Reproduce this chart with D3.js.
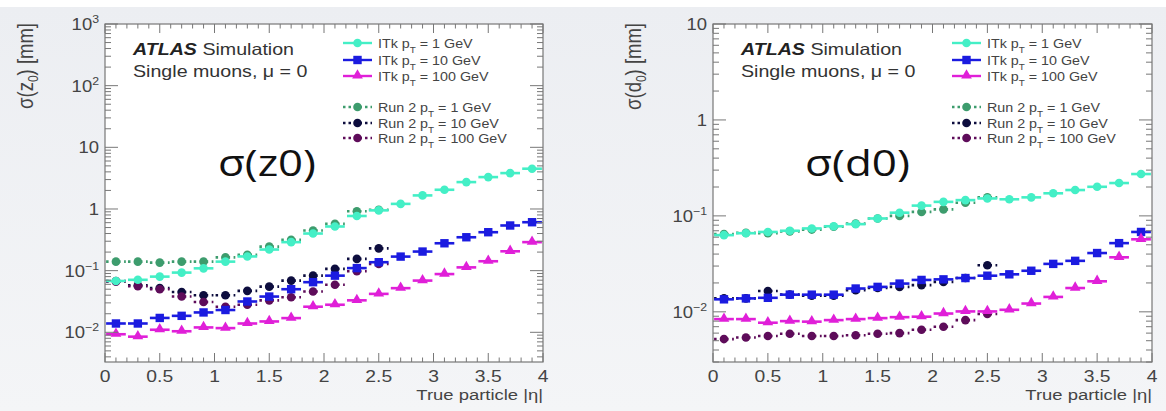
<!DOCTYPE html>
<html>
<head>
<meta charset="utf-8">
<script src="https://cdn.jsdelivr.net/npm/d3@7"></script>
<style>
  body { margin: 0; background: #ffffff; }
  svg { display: block; font-family: "Liberation Sans", Arial, sans-serif; }
  text { white-space: pre; }
</style>
</head>
<body>
<svg id="chart" width="1166" height="411"></svg>
<script>
// bin centres in |eta|
const etaItk = [0.1, 0.3, 0.5, 0.7, 0.9, 1.1, 1.3, 1.5, 1.7, 1.9, 2.1, 2.3, 2.5, 2.7, 2.9, 3.1, 3.3, 3.5, 3.7, 3.9];
const etaRun2 = [0.1, 0.3, 0.5, 0.7, 0.9, 1.1, 1.3, 1.5, 1.7, 1.9, 2.1, 2.3, 2.5];

// sigma(z0) [mm]
const itk1_z0 = [0.068, 0.071, 0.080, 0.093, 0.109, 0.140, 0.170, 0.220, 0.290, 0.400, 0.520, 0.77, 0.95, 1.21, 1.66, 2.05, 2.73, 3.29, 3.82, 4.5];
const itk10_z0 = [0.0139, 0.0139, 0.0171, 0.0185, 0.021, 0.023, 0.0316, 0.038, 0.050, 0.065, 0.083, 0.110, 0.137, 0.169, 0.204, 0.278, 0.348, 0.42, 0.54, 0.61];
const itk100_z0 = [0.0093, 0.0085, 0.011, 0.0104, 0.012, 0.0117, 0.0139, 0.015, 0.017, 0.026, 0.028, 0.033, 0.042, 0.052, 0.069, 0.088, 0.113, 0.142, 0.206, 0.29];
const run2_1_z0 = [0.14, 0.14, 0.135, 0.14, 0.14, 0.164, 0.18, 0.245, 0.316, 0.447, 0.574, 0.92, 0.97];
const run2_10_z0 = [0.068, 0.058, 0.052, 0.045, 0.040, 0.040, 0.047, 0.055, 0.069, 0.083, 0.107, 0.155, 0.23];
const run2_100_z0 = [0.066, 0.056, 0.050, 0.038, 0.031, 0.026, 0.028, 0.033, 0.037, 0.046, 0.059, 0.098, 0.128];

// sigma(d0) [mm]
const itk1_d0 = [0.063, 0.066, 0.068, 0.070, 0.074, 0.078, 0.082, 0.094, 0.108, 0.128, 0.140, 0.146, 0.152, 0.149, 0.156, 0.172, 0.186, 0.201, 0.220, 0.273];
const itk10_d0 = [0.0135, 0.0138, 0.0140, 0.0151, 0.0151, 0.0151, 0.0175, 0.0182, 0.0197, 0.0215, 0.0218, 0.0225, 0.0238, 0.0246, 0.0268, 0.0316, 0.0340, 0.041, 0.052, 0.068];
const itk100_d0 = [0.0084, 0.0084, 0.0077, 0.0080, 0.0079, 0.0082, 0.0084, 0.0086, 0.0088, 0.0089, 0.0096, 0.0101, 0.0101, 0.0105, 0.0122, 0.0143, 0.0177, 0.0208, 0.037, 0.057];
const run2_1_d0 = [0.0646, 0.0665, 0.066, 0.069, 0.072, 0.077, 0.083, 0.094, 0.100, 0.110, 0.117, 0.137, 0.156];
const run2_10_d0 = [0.0138, 0.0138, 0.0165, 0.0151, 0.0147, 0.0147, 0.0168, 0.0177, 0.0182, 0.019, 0.0205, 0.0225, 0.0306];
const run2_100_d0 = [0.0052, 0.0054, 0.0056, 0.0059, 0.0056, 0.0056, 0.0057, 0.0059, 0.0060, 0.0065, 0.0070, 0.0082, 0.0095];

// axis ticks
const xTicks = [0, 0.5, 1, 1.5, 2, 2.5, 3, 3.5, 4];
const xTickLabels = ["0", "0.5", "1", "1.5", "2", "2.5", "3", "3.5", "4"];
const yDecadesZ0 = [1000, 100, 10, 1, 0.1, 0.01];
const yLabelsZ0 = [["10", "3"], ["10", "2"], ["10", ""], ["1", ""], ["10", "\u22121"], ["10", "\u22122"]];
const yDecadesD0 = [10, 1, 0.1, 0.01];
const yLabelsD0 = [["10", ""], ["1", ""], ["10", "\u22121"], ["10", "\u22122"]];

// legend entries
const legendNames = [
    ["ITk p", " = 1 GeV"], ["ITk p", " = 10 GeV"], ["ITk p", " = 100 GeV"],
    ["Run 2 p", " = 1 GeV"], ["Run 2 p", " = 10 GeV"], ["Run 2 p", " = 100 GeV"]
];
const seriesColors = ["#44efc6", "#1b1be0", "#e01fd8", "#3d9c6d", "#0d0d3e", "#5e0c5a"];
const seriesShapes = ["circle", "square", "triangle", "circle", "circle", "circle"];

const svg = d3.select("#chart");
const SX = 1.19; // the picture is stretched sideways, so are its texts

// light slide background
var bg = svg.append("defs").append("linearGradient")
    .attr("id", "bg").attr("x1", 0).attr("y1", 0).attr("x2", 0).attr("y2", 1);
bg.append("stop").attr("offset", "0%").attr("stop-color", "#eceef2");
bg.append("stop").attr("offset", "100%").attr("stop-color", "#f4f5f7");
svg.append("rect").attr("x", 0).attr("y", 7).attr("width", 1166).attr("height", 404).attr("fill", "url(#bg)");

// text placed at (x, y), widened by sx
function wideText(g, x, y, sx) {
    return g.append("text").attr("transform", "translate(" + x + "," + y + ") scale(" + sx + ",1)");
}

function drawMarker(g, shape, cx, cy, color) {
    if (shape === "square") {
        g.append("rect").attr("x", cx - 4.2).attr("y", cy - 4.2).attr("width", 8.4).attr("height", 8.4).attr("fill", color);
    } else if (shape === "triangle") {
        g.append("path").attr("d", d3.symbol().type(d3.symbolTriangle).size(50)())
            .attr("transform", "translate(" + cx + "," + (cy - 0.5) + ")").attr("fill", color);
    } else {
        g.append("circle").attr("cx", cx).attr("cy", cy).attr("r", 4.3).attr("fill", color);
    }
}

function drawPanel(p) {
    var g = svg.append("g");
    var x = d3.scaleLinear().domain([0, 4]).range([p.left, p.right]);
    var y = d3.scaleLog().domain([p.ymin, p.ymax]).range([p.bottom, p.top]);

    g.append("rect").attr("x", p.left).attr("y", p.top)
        .attr("width", p.right - p.left).attr("height", p.bottom - p.top).attr("fill", "#fff");

    // data: run 2 first (dotted), ITk on top
    var series = [
        { eta: etaRun2, v: p.run2[0], i: 3 },
        { eta: etaRun2, v: p.run2[1], i: 4 },
        { eta: etaRun2, v: p.run2[2], i: 5 },
        { eta: etaItk, v: p.itk[0], i: 0 },
        { eta: etaItk, v: p.itk[1], i: 1 },
        { eta: etaItk, v: p.itk[2], i: 2 }
    ];
    var binHalf = 0.09;
    series.forEach(s => {
        var color = seriesColors[s.i];
        var dotted = s.i >= 3;
        s.eta.forEach((e, k) => {
            g.append("line")
                .attr("x1", x(e - binHalf)).attr("x2", x(e + binHalf))
                .attr("y1", y(s.v[k])).attr("y2", y(s.v[k]))
                .attr("stroke", color).attr("stroke-width", 2.6)
                .attr("stroke-dasharray", dotted ? "2.5,3.5" : null);
            drawMarker(g, seriesShapes[s.i], x(e), y(s.v[k]), color);
        });
    });

    // frame
    g.append("rect").attr("x", p.left).attr("y", p.top)
        .attr("width", p.right - p.left).attr("height", p.bottom - p.top)
        .attr("fill", "none").attr("stroke", "#777").attr("stroke-width", 1.2);

    var tickColor = "#777";
    // x ticks (inward, bottom and top)
    var xMinor = d3.range(0, 4.001, 0.1);
    xMinor.forEach(t => {
        var major = Math.abs(t * 2 - Math.round(t * 2)) < 1e-6;
        var len = major ? 9 : 4.5;
        g.append("line").attr("x1", x(t)).attr("x2", x(t)).attr("y1", p.bottom).attr("y2", p.bottom - len)
            .attr("stroke", tickColor).attr("stroke-width", 1);
        g.append("line").attr("x1", x(t)).attr("x2", x(t)).attr("y1", p.top).attr("y2", p.top + len)
            .attr("stroke", tickColor).attr("stroke-width", 1);
    });
    xTicks.forEach((t, i) => {
        wideText(g, x(t), p.bottom + 20, 1.17)
            .attr("text-anchor", "middle").attr("font-size", 16.5).attr("fill", "#444")
            .text(xTickLabels[i]);
    });

    // y ticks (log, inward, left and right)
    var yMinor = [];
    var lo = Math.floor(Math.log10(p.ymin)), hi = Math.ceil(Math.log10(p.ymax));
    for (var d = lo; d < hi; d++) {
        for (var k = 2; k <= 9; k++) {
            var v = k * Math.pow(10, d);
            if (v >= p.ymin && v <= p.ymax) yMinor.push(v);
        }
    }
    yMinor.forEach(v => {
        g.append("line").attr("x1", p.left).attr("x2", p.left + 6).attr("y1", y(v)).attr("y2", y(v))
            .attr("stroke", tickColor).attr("stroke-width", 1);
        g.append("line").attr("x1", p.right).attr("x2", p.right - 6).attr("y1", y(v)).attr("y2", y(v))
            .attr("stroke", tickColor).attr("stroke-width", 1);
    });
    p.decades.forEach((v, i) => {
        g.append("line").attr("x1", p.left).attr("x2", p.left + 13).attr("y1", y(v)).attr("y2", y(v))
            .attr("stroke", tickColor).attr("stroke-width", 1);
        g.append("line").attr("x1", p.right).attr("x2", p.right - 13).attr("y1", y(v)).attr("y2", y(v))
            .attr("stroke", tickColor).attr("stroke-width", 1);
        var lab = wideText(g, p.left - 6, y(v) + 6, 1.12)
            .attr("text-anchor", "end").attr("font-size", 16.5).attr("fill", "#444");
        lab.append("tspan").text(p.labels[i][0]);
        if (p.labels[i][1] !== "") {
            lab.append("tspan").attr("dy", -7).attr("font-size", 11).text(p.labels[i][1]);
        }
    });

    // axis titles
    wideText(g, p.right, p.bottom + 38, SX)
        .attr("text-anchor", "end").attr("font-size", 15.5).attr("fill", "#444")
        .text("True particle |\u03b7|");

    var yt = g.append("text")
        .attr("transform", "translate(" + (p.left - 72) + "," + (p.top - 1) + ") scale(" + SX + ",1) rotate(-90)")
        .attr("text-anchor", "end").attr("font-size", 18.5).attr("fill", "#444");
    yt.append("tspan").text("\u03c3(" + p.yVar);
    yt.append("tspan").attr("dy", 4).attr("font-size", 12).text("0");
    yt.append("tspan").attr("dy", -4).text(") [mm]");

    // ATLAS label
    var at = wideText(g, p.left + 28, 55, SX).attr("font-size", 16.5).attr("fill", "#333");
    at.append("tspan").attr("font-weight", "bold").attr("font-style", "italic").attr("fill", "#222").text("ATLAS");
    at.append("tspan").text(" Simulation");
    wideText(g, p.left + 28, 77, SX).attr("font-size", 16.5).attr("fill", "#333")
        .text("Single muons, \u03bc = 0");

    // legend
    var rows = [43, 60, 76, 107, 123, 138];
    var lx = p.left + p.legendX;
    legendNames.forEach((nm, i) => {
        var color = seriesColors[i];
        g.append("line").attr("x1", lx).attr("x2", lx + 29).attr("y1", rows[i]).attr("y2", rows[i])
            .attr("stroke", color).attr("stroke-width", 2.4)
            .attr("stroke-dasharray", i >= 3 ? "2.5,3" : null);
        drawMarker(g, seriesShapes[i], lx + 14.5, rows[i], color);
        var t = wideText(g, lx + 35, rows[i] + 4.5, 1.1)
            .attr("font-size", 13).attr("fill", "#444");
        t.append("tspan").text(nm[0]);
        t.append("tspan").attr("dy", 5).attr("font-size", 9).text("T");
        t.append("tspan").attr("dy", -5).text(nm[1]);
    });

    // big overlay label
    g.append("text").attr("x", p.bigX).attr("y", 176)
        .attr("font-family", "'Open Sans', sans-serif").attr("font-size", 37).attr("fill", "#111")
        .attr("textLength", p.bigW).attr("lengthAdjust", "spacingAndGlyphs")
        .text(p.bigText);
}

drawPanel({
    left: 105, right: 543, top: 24, bottom: 362,
    ymin: 0.0033, ymax: 1000,
    decades: yDecadesZ0, labels: yLabelsZ0,
    itk: [itk1_z0, itk10_z0, itk100_z0],
    run2: [run2_1_z0, run2_10_z0, run2_100_z0],
    yVar: "z", legendX: 238, bigX: 218, bigW: 98, bigText: "\u03c3(z0)"
});

drawPanel({
    left: 713, right: 1152, top: 24, bottom: 362,
    ymin: 0.003, ymax: 10,
    decades: yDecadesD0, labels: yLabelsD0,
    itk: [itk1_d0, itk10_d0, itk100_d0],
    run2: [run2_1_d0, run2_10_d0, run2_100_d0],
    yVar: "d", legendX: 239, bigX: 805, bigW: 105, bigText: "\u03c3(d0)"
});
</script>
</body>
</html>
